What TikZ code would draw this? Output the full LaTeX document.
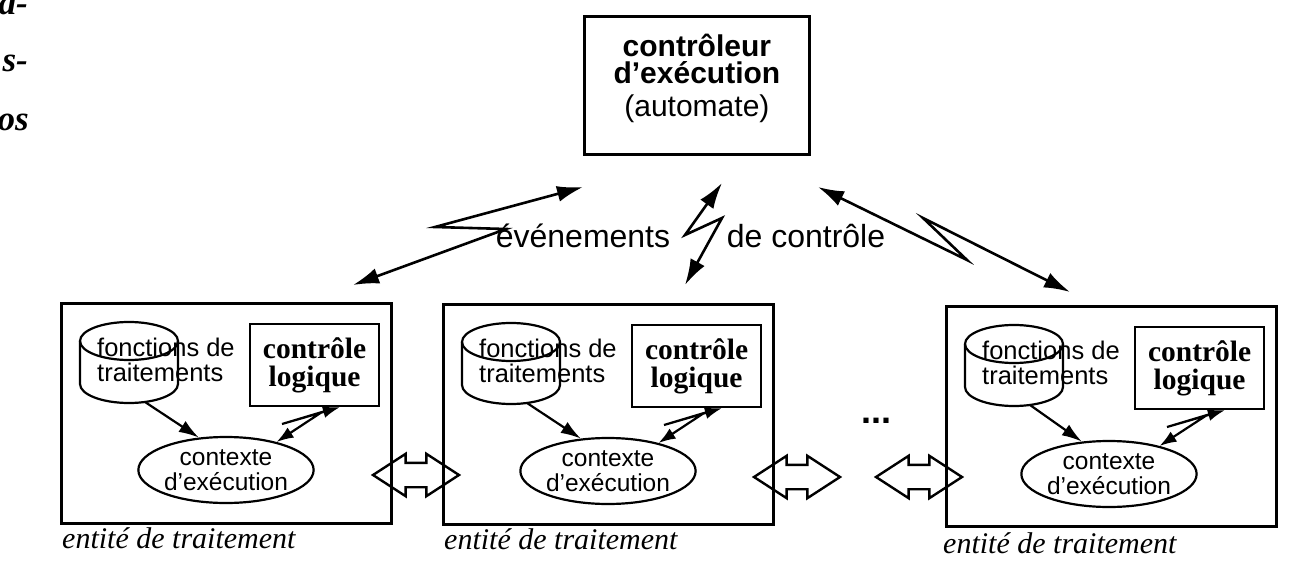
\documentclass[tikz,border=0pt]{standalone}
\usepackage{fontspec}
\setmainfont{Liberation Serif}
\setsansfont{Liberation Sans}
\usetikzlibrary{shapes.geometric,shapes.arrows,arrows.meta}

\begin{document}
\begin{tikzpicture}[x=1pt,y=-1pt,
  ctrlbox/.style={draw,line width=2.8pt,anchor=north west,minimum width=225pt,minimum height=138pt,inner sep=0pt,align=center,font=\sffamily\fontsize{30}{27}\selectfont},
  entity/.style={draw,line width=2.6pt,anchor=north west,minimum width=330pt,minimum height=220pt,inner sep=0pt},
  logicbox/.style={draw,line width=2.2pt,anchor=north west,minimum width=129pt,minimum height=82pt,inner sep=0pt,align=center,font=\bfseries\fontsize{29.5}{28}\selectfont},
  ctxell/.style={draw,ellipse,line width=2.2pt,minimum width=172pt,minimum height=66pt,inner sep=0pt,align=center,font=\sffamily\fontsize{24.5}{25}\selectfont},
  fctlabel/.style={anchor=north west,inner sep=0pt,align=left,font=\sffamily\fontsize{25.5}{25}\selectfont},
  caption/.style={anchor=base west,inner sep=0pt,font=\itshape\fontsize{30}{30}\selectfont},
  evlabel/.style={anchor=base,inner sep=0pt,font=\sffamily\fontsize{32}{32}\selectfont},
  frag/.style={anchor=base east,inner sep=0pt,font=\bfseries\itshape\fontsize{35}{35}\selectfont},
  link/.style={line width=2.2pt,-{Latex[length=20pt,width=13pt]}},
  flash/.style={line width=2.6pt,{Latex[length=26pt,width=16pt]}-{Latex[length=26pt,width=16pt]}},
  smallflash/.style={line width=2.2pt,{Latex[length=17pt,width=12pt]}-{Latex[length=17pt,width=12pt]}},
  bothway/.style={draw,double arrow,line width=2.4pt,minimum height=86pt,inner xsep=0pt,inner ysep=11pt,double arrow head extend=9pt,double arrow tip angle=66},
  cyl/.style={line width=2.2pt}]
\useasboundingbox (0,0) rectangle (1291,583);

\node[frag] (p1) at (28,15) {a-};
\node[frag] (p2) at (28,72) {s-};
\node[frag] (p3) at (29,131) {os};

\node[ctrlbox] (ctrl) at (583,15) {{\bfseries contrôleur}\\{\bfseries d’exécution}\\[6pt](automate)\\[-7pt]\mbox{}};

\coordinate (ev1a) at (353,285);
\coordinate (ev1b) at (583,187);
\coordinate (ev2a) at (685,285);
\coordinate (ev2b) at (722,183);
\coordinate (ev3a) at (818,187);
\coordinate (ev3b) at (1070,292);
\draw[flash] (ev1a) -- (506,229) -- (435,227) -- (ev1b);
\draw[flash] (ev2a) -- (722,218) -- (685,235) -- (ev2b);
\draw[flash] (ev3a) -- (967,260) -- (923,218) -- (ev3b);
\node[evlabel] (ev) at (583,247) {événements};
\node[evlabel] (dc) at (806,247) {de contrôle};

\begin{scope}[shift={(60,302)}]
\node[entity] (e1) at (0,0) {};
\draw[cyl] (69,39) ellipse [x radius=49,y radius=19];
\draw[cyl] (20,39) -- (20,82) arc[start angle=180,end angle=0,x radius=49,y radius=19] -- (118,39);
\coordinate (k1) at (85,100);
\node[fctlabel] (f1) at (37,36) {fonctions de\\traitements};
\node[logicbox] (l1) at (189,21) {contrôle\\logique};
\node[ctxell] (c1) at (166,168) {contexte\\d'exécution};
\node[caption] (t1) at (2,246) {entité de traitement};
\draw[link] (k1) -- (c1.130);
\draw[smallflash] (c1.29) -- (262,110) -- (222,122) -- (l1.-59);
\end{scope}

\begin{scope}[shift={(442,303)}]
\node[entity] (e2) at (0,0) {};
\draw[cyl] (69,39) ellipse [x radius=49,y radius=19];
\draw[cyl] (20,39) -- (20,82) arc[start angle=180,end angle=0,x radius=49,y radius=19] -- (118,39);
\coordinate (k2) at (85,100);
\node[fctlabel] (f2) at (37,36) {fonctions de\\traitements};
\node[logicbox] (l2) at (189,21) {contrôle\\logique};
\node[ctxell] (c2) at (166,168) {contexte\\d'exécution};
\node[caption] (t2) at (2,246) {entité de traitement};
\draw[link] (k2) -- (c2.130);
\draw[smallflash] (c2.29) -- (262,110) -- (222,122) -- (l2.-59);
\end{scope}

\begin{scope}[shift={(945,305)}]
\node[entity] (e3) at (0,0) {};
\draw[cyl] (69,39) ellipse [x radius=49,y radius=19];
\draw[cyl] (20,39) -- (20,82) arc[start angle=180,end angle=0,x radius=49,y radius=19] -- (118,39);
\coordinate (k3) at (85,100);
\node[fctlabel] (f3) at (37,36) {fonctions de\\traitements};
\node[logicbox] (l3) at (189,21) {contrôle\\logique};
\node[ctxell] (c3) at (164,169) {contexte\\d'exécution};
\node[caption] (t3) at (-2,248) {entité de traitement};
\draw[link] (k3) -- (c3.130);
\draw[smallflash] (c3.29) -- (262,110) -- (222,122) -- (l3.-59);
\end{scope}

\node[bothway] (a1) at (416,475) {};
\node[bothway] (a2) at (797,477) {};
\node[bothway] (a3) at (919,477) {};
\node[inner sep=0pt,font=\sffamily\bfseries\fontsize{36}{36}\selectfont] (dots) at (876,421) {...};
\end{tikzpicture}
\end{document}
